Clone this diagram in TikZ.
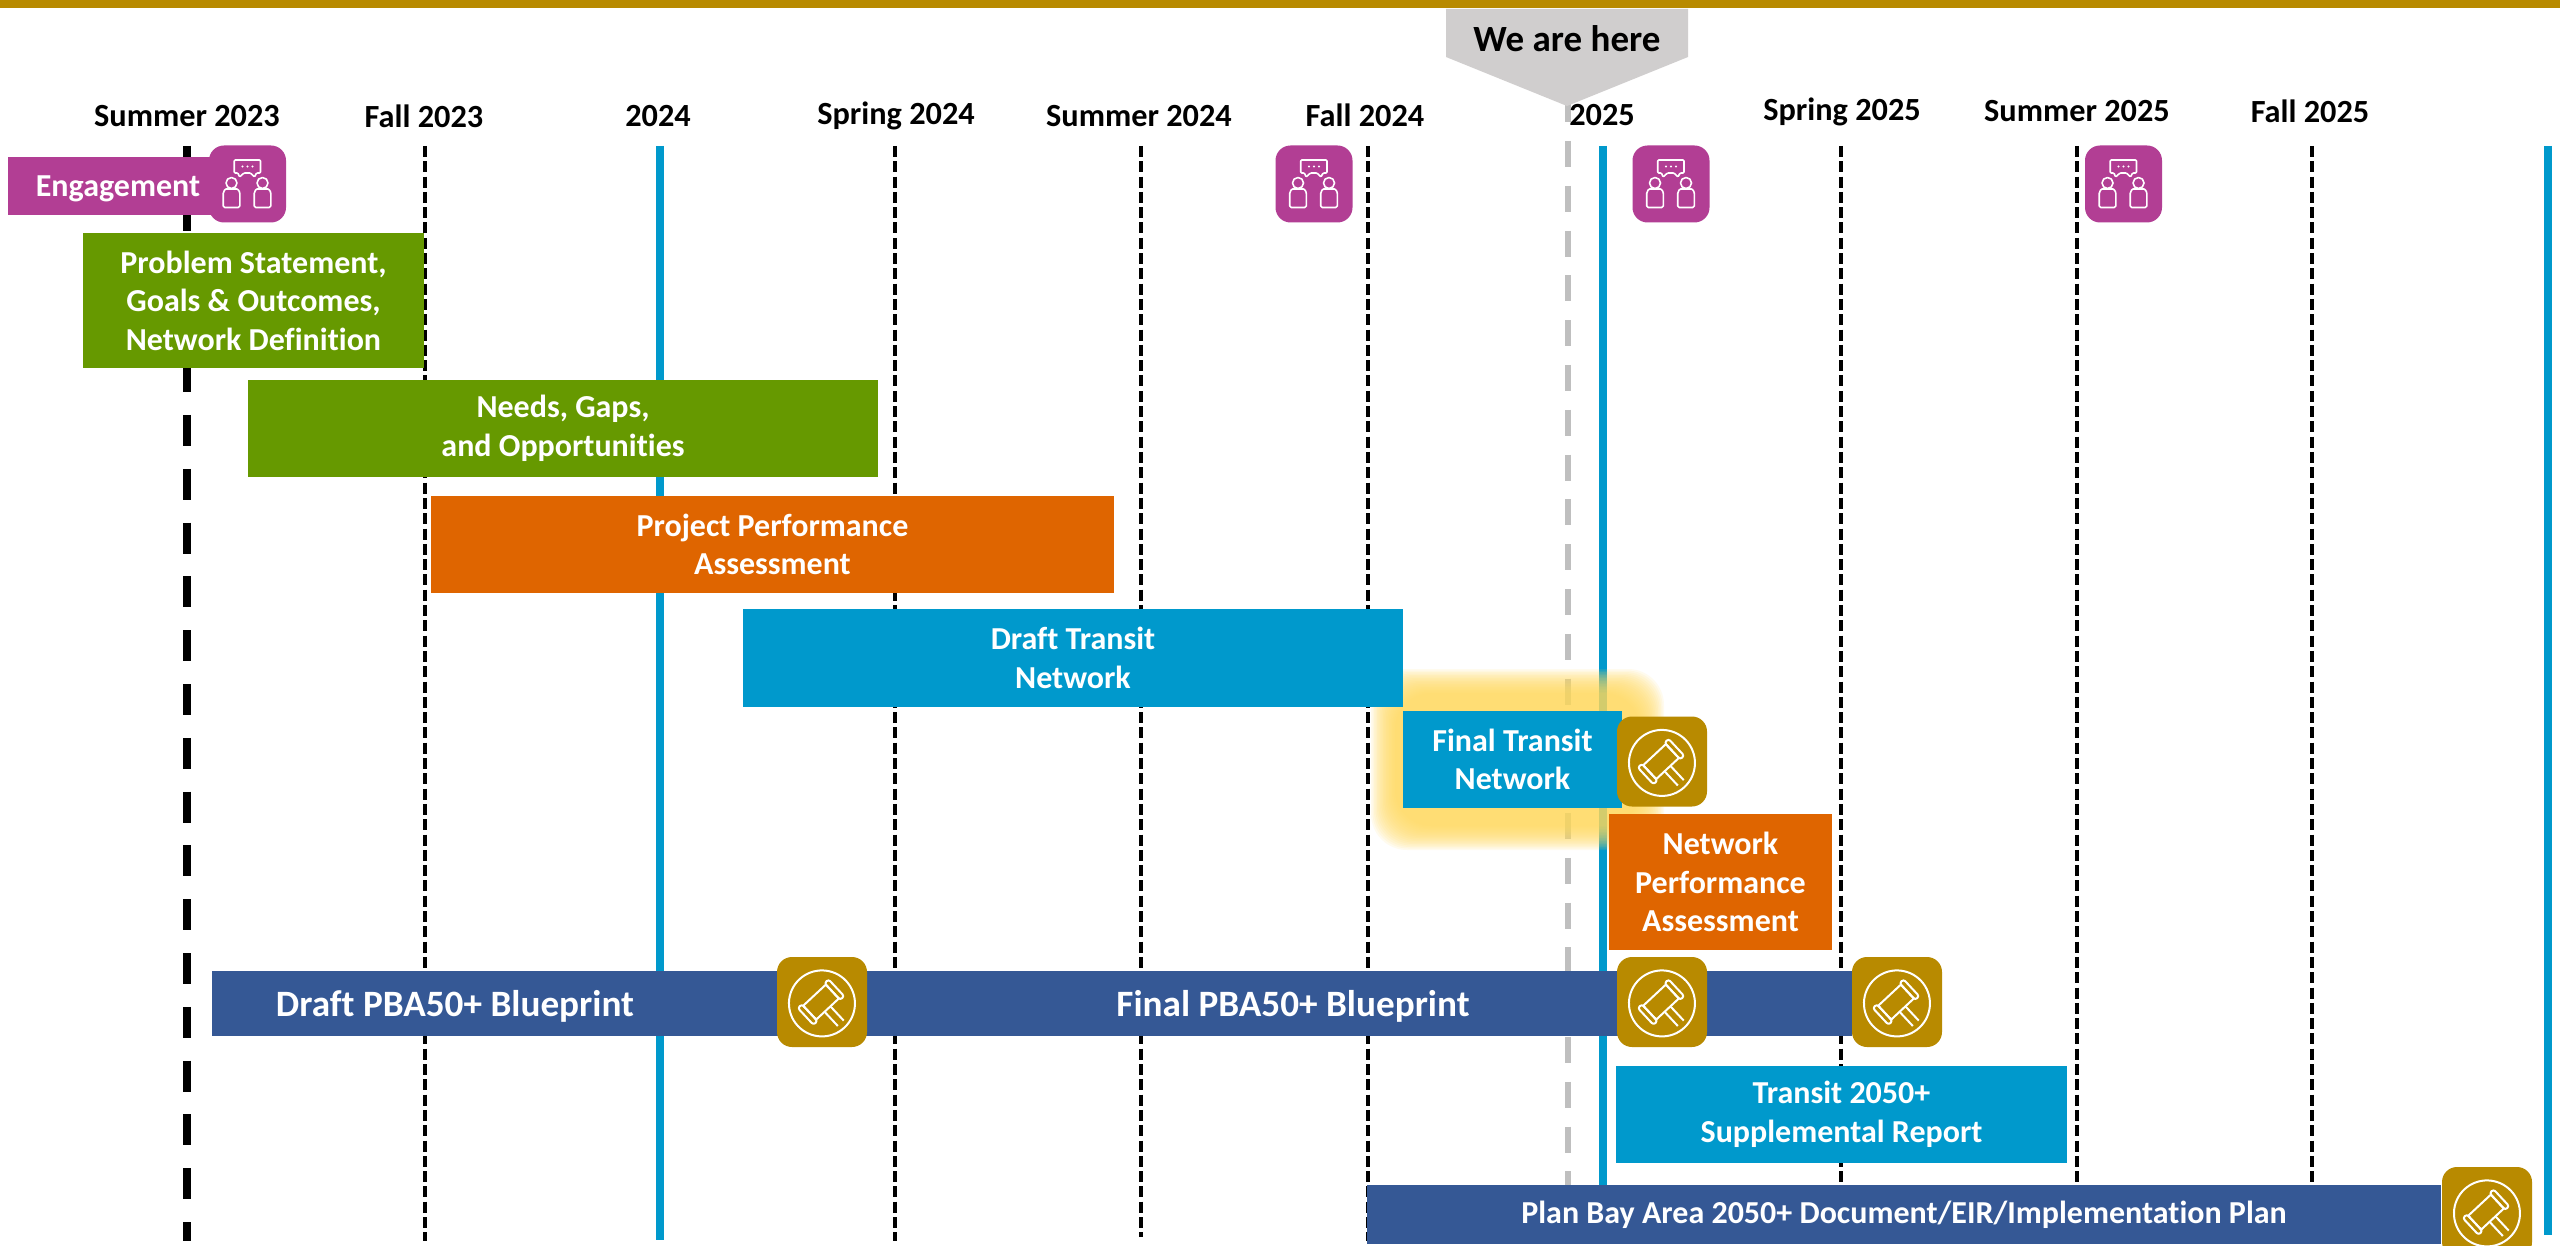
\documentclass[tikz,border=0pt]{standalone}
\usepackage{fontspec}
\setmainfont{Carlito}[Ligatures=NoCommon]
\definecolor{cpurple}{HTML}{B23E94}
\definecolor{cgreen}{HTML}{669900}
\definecolor{corange}{HTML}{DF6500}
\definecolor{cblue}{HTML}{0099CC}
\definecolor{cnavy}{HTML}{355895}
\definecolor{cgold}{HTML}{B88A00}
\definecolor{cgrey}{HTML}{D0CECE}
\definecolor{cdash}{HTML}{BFBFBF}
\definecolor{cglow}{HTML}{FFDB5E}
\tikzset{
  tbar/.style={inner sep=0pt,outer sep=0pt,draw=none,text=white,align=center,font=\fontsize{32}{38.5}\selectfont\bfseries},
  datelabel/.style={inner sep=0pt,text=black,font=\fontsize{32.3}{36}\selectfont\bfseries},
  bigtext/.style={inner sep=0pt,text=white,font=\fontsize{37.2}{42}\selectfont\bfseries},
  thindash/.style={line width=3.8pt,black,dash pattern=on 11pt off 4.3pt},
  thickdash/.style={line width=8pt,black,dash pattern=on 31pt off 22.8pt},
  greydash/.style={line width=6.5pt,cdash,dash pattern=on 26pt off 18.8pt},
  blueline/.style={line width=8pt,cblue},
  iconbox/.style={inner sep=0pt,outer sep=0pt,rounded corners=15pt,minimum width=#1 pt,minimum height=#1 pt},
  glyph/.style={draw=white,line width=2pt,line join=round},
}
\newcommand{\tlbar}[7]{%
  \pgfmathsetmacro\bw{#4-#2}\pgfmathsetmacro\bh{#5-#3}%
  \node[tbar,fill=#6,minimum width=\bw pt,minimum height=\bh pt] (#1) at ({(#2+#4)/2},{(#3+#5)/2}) {#7};}
\newcommand{\gavelicon}[3]{%
  \node[iconbox=90,fill=cgold] (#1) at (#2,#3) {};
  \begin{scope}[shift={(#1.center)},x=1pt,y=1pt,rotate=43,glyph]
    \draw (-1,-1) circle (33pt);
    \begin{scope}[shift={(-0.8,0.6)}]
    \draw (-15.5,-9.5) rectangle (15.5,9.5);
    \draw[rounded corners=2.5pt] (-21,-11.5) rectangle (-15.5,11.5);
    \draw[rounded corners=2.5pt] (15.5,-11.5) rectangle (21,11.5);
    \draw (-4,-9.5) -- (-4,-29) (4,-9.5) -- (4,-29);
    \end{scope}
  \end{scope}}
\newcommand{\peopleicon}[3]{%
  \node[iconbox=77,fill=cpurple] (#1) at (#2,#3) {};
  \begin{scope}[shift={(#1.center)},x=1pt,y=1pt,glyph,line width=1.6pt]
    \draw[rounded corners=1pt] (-13.3,24) -- (13,24) -- (13,11) -- (9,11) -- (7,7) -- (3,11) -- (-3.5,11) -- (-8,7) -- (-9.5,11) -- (-13.3,11) -- cycle;
    \fill[white] (-5,17.5) circle (1.2pt) (0,17.5) circle (1.2pt) (5,17.5) circle (1.2pt);
    \draw (-16,1) circle (5.5pt) (15,1) circle (5.5pt);
    \draw[rounded corners=1.5pt] (-24.3,-23.5) -- (-7.7,-23.5) -- (-7.7,-11) .. controls (-7.7,-6) and (-11,-5) .. (-12,-5) -- (-20,-5) .. controls (-22,-5) and (-24.3,-7) .. (-24.3,-11) -- cycle;
    \draw[rounded corners=1.5pt] (6.7,-23.5) -- (23.3,-23.5) -- (23.3,-11) .. controls (23.3,-6) and (20,-5) .. (19,-5) -- (11,-5) .. controls (9,-5) and (6.7,-7) .. (6.7,-11) -- cycle;
  \end{scope}}
\begin{document}
\begin{tikzpicture}[x=1pt,y=-1pt]
\useasboundingbox (0,0) rectangle (2560,1246);
\fill[white] (0,0) rectangle (2560,1246);
% top band
\fill[cgold] (0,0) rectangle (2560,8);
% time grid
\draw[thickdash] (187,146) -- (187,1241);
\draw[thindash] (425,146) -- (425,1241);
\draw[blueline] (660,146) -- (660,1240);
\draw[thindash] (895,146) -- (895,1241);
\draw[thindash] (1141,146) -- (1141,1237);
\draw[thindash] (1368,146) -- (1368,1241);
\draw[greydash] (1568,96.2) -- (1568,1190);
\draw[blueline] (1603,146) -- (1603,1240);
\draw[thindash] (1841,146) -- (1841,1241);
\draw[thindash] (2077,146) -- (2077,1241);
\draw[thindash] (2312,146) -- (2312,1190);
\draw[blueline] (2548,146) -- (2548,1235);
% date labels
\node[datelabel] (d1) at (187,116) {Summer 2023};
\node[datelabel] (d2) at (424,116) {Fall 2023};
\node[datelabel] (d3) at (658,116) {2024};
\node[datelabel] (d4) at (896,116) {Spring 2024};
\node[datelabel] (d5) at (1139,116) {Summer 2024};
\node[datelabel] (d6) at (1365,115) {Fall 2024};
\node[datelabel] (d7) at (1602,115) {2025};
\node[datelabel] (d8) at (1842,111.5) {Spring 2025};
\node[datelabel] (d9) at (2077,111.5) {Summer 2025};
\node[datelabel] (d10) at (2310,111.5) {Fall 2025};
% we are here
\fill[cgrey] (1446,9) -- (1688,9) -- (1688,57) -- (1567,106) -- (1446,57) -- cycle;
\node[datelabel,font=\fontsize{37}{42}\selectfont\bfseries] (here) at (1567,39) {We are here};
% glow
\foreach \e in {18,19.5,...,42}{
  \fill[cglow,opacity=.1,rounded corners=36pt] (1403-\e+10,711-\e) rectangle (1622+\e,808+\e);
}
% bars
\tlbar{eng}{8}{157}{215}{215}{cpurple}{}
\node[tbar] (engtext) at (118,189) {Engagement};
\tlbar{prob}{83}{233}{424}{368}{cgreen}{Problem Statement,\\Goals \& Outcomes,\\Network Definition}
\tlbar{need}{248}{380}{878}{477}{cgreen}{Needs, Gaps,\\and Opportunities}
\tlbar{proj}{431}{496}{1114}{593}{corange}{Project Performance\\Assessment}
\tlbar{draft}{743}{609}{1403}{707}{cblue}{Draft Transit\\Network}
\tlbar{final}{1403}{711}{1622}{808}{cblue}{Final Transit\\Network}
\tlbar{nperf}{1609}{814}{1832}{950}{corange}{Network\\Performance\\Assessment}
\tlbar{blue}{212}{971}{1852}{1036}{cnavy}{}
\node[bigtext] (bp1) at (455,1006) {Draft PBA50+ Blueprint};
\node[bigtext] (bp2) at (1293,1006) {Final PBA50+ Blueprint};
\tlbar{t2050}{1616}{1066}{2067}{1163}{cblue}{Transit 2050+\\Supplemental Report}
\tlbar{plan}{1367}{1185}{2441}{1244}{cnavy}{Plan Bay Area 2050+ Document/EIR/Implementation Plan}
% icons
\peopleicon{p1}{247.5}{184}
\peopleicon{p2}{1314}{184}
\peopleicon{p3}{1671}{184}
\peopleicon{p4}{2123.5}{184}
\gavelicon{g1}{822}{1002}
\gavelicon{g2}{1662}{761.5}
\gavelicon{g3}{1662}{1002}
\gavelicon{g4}{1897}{1002}
\gavelicon{g5}{2487}{1212}
\end{tikzpicture}
\end{document}
